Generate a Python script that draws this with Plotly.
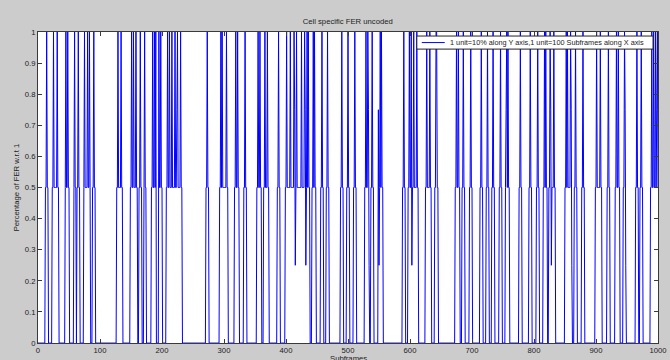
import numpy as np
import plotly.graph_objects as go

# Subframe axis: 0 .. 1000
n_subframes = 1000

# Subframes whose frame error rate reaches 1 (full failure)
full_frames = [14, 25, 31, 45, 48, 59, 65, 75, 80, 83, 90, 129, 134, 151, 154, 158,
               165, 172, 185, 188, 190, 195, 198, 209, 212, 216, 221, 225, 230, 273,
               295, 297, 304, 319, 322, 334, 355, 358, 366, 370, 388, 401, 407, 413,
               417, 425, 430, 434, 436, 444, 446, 458, 467, 490, 500, 511, 529, 532,
               539, 552, 554, 590, 599, 602, 606, 611, 627, 632, 642, 643, 675, 678,
               686, 698, 715, 725, 734, 746, 756, 758, 778, 794, 806, 817, 819, 826,
               832, 852, 854, 859, 867, 879, 901, 907, 920, 933, 936, 946, 966, 973,
               990, 993, 996, 999]

# Runs of subframes sitting at an error rate of 0.5 (start / end, inclusive)
half_run_start = [12, 23, 44, 58, 63, 74, 88, 127, 149, 163, 171, 183, 196, 207, 271,
                  293, 317, 332, 353, 364, 386, 399, 442, 456, 465, 488, 498, 509, 527,
                  537, 550, 588, 597, 625, 640, 673, 684, 696, 713, 723, 732, 744, 754,
                  776, 792, 804, 815, 824, 850, 865, 877, 899, 918, 931, 944, 964, 971,
                  988]
half_run_end = [16, 33, 50, 61, 67, 84, 92, 136, 160, 167, 174, 190, 200, 232, 275,
                306, 324, 336, 360, 372, 390, 438, 448, 460, 469, 492, 502, 513, 534,
                541, 556, 592, 613, 634, 645, 680, 688, 700, 717, 727, 736, 748, 760,
                780, 796, 808, 821, 834, 861, 869, 881, 909, 922, 938, 948, 968, 975,
                1000]

# Subframes at 0.75, each followed by a subframe at 0.25
three_quarter_frames = [224, 414, 431, 533, 549, 755, 827, 860, 947, 998]
quarter_frames = [225, 415, 432, 534, 550, 603, 756, 828, 861, 948, 999]

subframes = np.arange(n_subframes + 1)
fer = np.zeros(n_subframes + 1)
for s, e in zip(half_run_start, half_run_end):
    fer[s:e + 1] = 0.5
fer[three_quarter_frames] = 0.75
fer[quarter_frames] = 0.25
fer[full_frames] = 1.0

x_ticks = list(range(0, 1001, 100))
y_ticks = [round(v * 0.1, 1) for v in range(11)]
y_tick_text = ["0", "0.1", "0.2", "0.3", "0.4", "0.5", "0.6", "0.7", "0.8", "0.9", "1"]

legend_text = "1 unit=10% along Y axis,1 unit=100 Subframes along X axis"

font_family = "Liberation Sans, Arial, sans-serif"
axis_col = "#3a3a3a"
text_col = "#222222"
line_col = "rgb(0,0,255)"

fig = go.Figure()
fig.add_trace(go.Scatter(
    x=subframes, y=fer, mode="lines",
    line=dict(color=line_col, width=1, simplify=False),
    name=legend_text, showlegend=False,
))

# Compact boxed legend in the upper-right corner of the axes
fig.add_shape(type="rect", xref="paper", yref="paper",
              x0=0.611, x1=0.992, y0=0.945, y1=0.987,
              fillcolor="white", line=dict(color=text_col, width=1), layer="above")
fig.add_shape(type="line", xref="paper", yref="paper",
              x0=0.619, x1=0.656, y0=0.966, y1=0.966,
              line=dict(color=line_col, width=1), layer="above")
fig.add_annotation(text=legend_text, xref="paper", yref="paper",
                   x=0.661, y=0.966, xanchor="left", yanchor="middle",
                   showarrow=False, font=dict(size=7.3, color=text_col))

# X-axis label sitting right at the bottom edge of the figure
fig.add_annotation(text="Subframes", xref="paper", yref="paper",
                   x=0.5, y=-0.03, xanchor="center", yanchor="top",
                   showarrow=False, font=dict(size=7.7, color=text_col))

fig.update_layout(
    width=670, height=360,
    margin=dict(l=38, r=12, t=32, b=17, autoexpand=False),
    paper_bgcolor="#cccccc",
    plot_bgcolor="white",
    font=dict(family=font_family, size=8, color=text_col),
    title=dict(text="Cell specific FER uncoded", x=0.519, xanchor="center",
               y=0.94, yanchor="middle", font=dict(size=7.7, color=text_col)),
    showlegend=False,
)

fig.update_xaxes(
    range=[0, 1000], tickvals=x_ticks, ticks="inside", ticklen=4,
    tickcolor=axis_col, showline=True, linecolor=axis_col, linewidth=1,
    mirror="ticks", showgrid=False, zeroline=False, automargin=False,
    tickfont=dict(size=7.7, color=text_col),
)
fig.update_yaxes(
    range=[0, 1], tickvals=y_ticks, ticktext=y_tick_text, ticks="inside", ticklen=4,
    tickcolor=axis_col, showline=True, linecolor=axis_col, linewidth=1,
    mirror="ticks", showgrid=False, zeroline=False, automargin=False,
    tickfont=dict(size=7.7, color=text_col),
    title=dict(text="Percentage of FER w.r.t 1", standoff=4,
               font=dict(size=7.7, color=text_col)),
)

fig.write_html("out.html")
